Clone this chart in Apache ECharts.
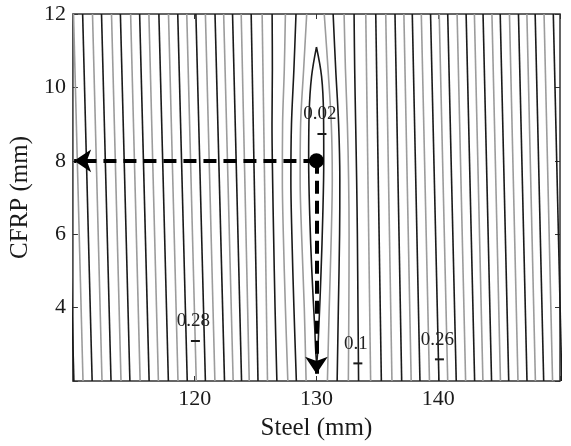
<!DOCTYPE html>
<html lang="en">
<head>
<meta charset="UTF-8">
<title>Contour</title>
<script src="https://cdn.jsdelivr.net/npm/echarts@6/dist/echarts.min.js"></script>
<style>
    html, body { margin: 0; padding: 0; background: #fff; }
    #chart { width: 571px; height: 446px; }
</style>
</head>
<body>
<div id="chart"></div>
<script>
    // tick labels
    var xTickLabels = [120, 130, 140];
    var yTickLabels = [4, 6, 8, 10, 12];

    // near-straight contours, x at the top (CFRP = 12) and bottom (CFRP = 2)
    var leftTopX = [109.30, 110.05, 110.80, 111.61, 112.35, 113.17, 113.90, 114.74, 115.48, 116.24, 117.06,
        117.85, 118.61, 119.35, 120.10, 120.88, 121.67, 122.38, 123.11, 123.82, 124.64, 125.54];
    var leftBottomX = [110.08, 110.83, 111.58, 112.39, 113.13, 113.95, 114.68, 115.52, 116.26, 117.02, 117.84,
        118.63, 119.39, 120.13, 120.88, 121.66, 122.45, 123.16, 123.85, 124.48, 125.20, 125.98];
    var rightTopX = [134.05, 134.87, 135.69, 136.45, 137.18, 137.87, 138.61, 139.37, 140.08, 140.78, 141.55,
        142.29, 142.97, 143.68, 144.41, 145.09, 145.85, 146.59, 147.28, 147.96, 148.69, 149.45];
    var rightBottomX = [134.45, 135.33, 136.20, 137.00, 137.78, 138.50, 139.28, 140.06, 140.78, 141.48, 142.25,
        142.99, 143.67, 144.38, 145.11, 145.79, 146.55, 147.29, 147.98, 148.66, 149.39, 150.15];

    // bent contours around the optimum, x sampled at curveY
    var curveY = [12, 10.5, 9, 7.5, 6, 4, 2];
    var curveLeftX = [
        [126.36, 126.38, 126.35, 126.40, 126.48, 126.60, 126.75],
        [127.45, 127.36, 127.22, 127.20, 127.28, 127.45, 127.65],
        [128.32, 128.15, 127.95, 127.90, 127.98, 128.15, 128.35],
        [129.20, 128.95, 128.70, 128.66, 128.78, 129.00, 129.15]
    ];
    var curveRightX = [
        [130.64, 130.95, 131.22, 131.30, 131.22, 131.05, 130.90],
        [131.37, 131.58, 131.82, 131.92, 131.90, 131.80, 131.70],
        [132.27, 132.38, 132.54, 132.64, 132.68, 132.66, 132.62],
        [133.09, 133.14, 133.22, 133.30, 133.36, 133.41, 133.46]
    ];

    // innermost closed contour (0.02)
    var lensX = [130.0, 129.6, 129.4, 129.36, 129.45, 129.62, 129.85, 130.02, 130.2, 130.38, 130.52, 130.6, 130.58, 130.42, 130.0];
    var lensY = [11.1, 10.3, 9.3, 8.0, 6.5, 5.0, 3.5, 2.45, 3.5, 5.0, 6.5, 8.0, 9.3, 10.3, 11.1];

    // clabel marks
    var labelText = ['0.02', '0.28', '0.1', '0.26'];
    var labelX = [130.45, 120.06, 133.4, 140.1];
    var labelY = [8.73, 3.09, 2.48, 2.59];

    var optimum = [130, 8];

    var serif = 'Liberation Serif, Times New Roman, serif';
    var dark = '#1a1a1a';
    var light = '#9c9c9c';

    function contour(points, level, smooth) {
        return {
            type: 'line',
            data: points,
            symbol: 'none',
            smooth: smooth ? 0.35 : false,
            clip: true,
            silent: true,
            lineStyle: { color: level % 2 ? dark : light, width: 1.6 },
            z: 2
        };
    }

    var series = [];
    var n = leftTopX.length;
    for (var i = 0; i < n; i++) {
        series.push(contour([[leftTopX[i], 12], [leftBottomX[i], 2]], 6 + (n - 1 - i), false));
    }
    for (var i = 0; i < curveLeftX.length; i++) {
        series.push(contour(curveY.map(function(y, k) { return [curveLeftX[i][k], y]; }), 5 - i, true));
    }
    series.push(contour(lensX.map(function(x, k) { return [x, lensY[k]]; }), 1, true));
    for (var i = 0; i < curveRightX.length; i++) {
        series.push(contour(curveY.map(function(y, k) { return [curveRightX[i][k], y]; }), 2 + i, true));
    }
    for (var i = 0; i < rightTopX.length; i++) {
        series.push(contour([[rightTopX[i], 12], [rightBottomX[i], 2]], 6 + i, false));
    }

    // clabel '+' marks with their values
    series.push({
        type: 'scatter',
        data: labelText.map(function(t, k) { return { name: t, value: [labelX[k], labelY[k]] }; }),
        symbol: 'rect',
        symbolSize: [9, 2],
        itemStyle: { color: dark, opacity: 1 },
        label: {
            show: true,
            position: 'top',
            distance: 9,
            offset: [-2, 0],
            formatter: '{b}',
            fontFamily: serif,
            fontSize: 19,
            color: '#222'
        },
        silent: true,
        z: 5
    });

    // dashed arrows from the optimum
    series.push({
        type: 'scatter',
        data: [optimum],
        symbolSize: 15,
        itemStyle: { color: '#000', opacity: 1 },
        silent: true,
        z: 10,
        markLine: {
            silent: true,
            symbol: ['none', 'arrow'],
            symbolSize: 17,
            label: { show: false },
            lineStyle: { color: '#000', width: 4, type: [13, 7] },
            data: [
                [{ coord: optimum }, { coord: [110.1, optimum[1]] }],
                [{ coord: optimum }, { coord: [optimum[0], 2.2] }]
            ]
        }
    });

    var tickStyle = { color: '#333', width: 1 };

    var option = {
        animation: false,
        backgroundColor: '#fff',
        grid: { left: 71, right: 11, top: 14, bottom: 56, show: true, borderColor: '#333', borderWidth: 1.5 },
        xAxis: [{
            type: 'value', min: 110, max: 150, interval: 10, position: 'bottom',
            axisLine: { show: false },
            axisTick: { inside: true, length: 5, lineStyle: tickStyle },
            splitLine: { show: false },
            axisLabel: {
                formatter: function(v) { return xTickLabels.indexOf(v) >= 0 ? String(v) : ''; },
                fontFamily: serif, fontSize: 22, color: '#1a1a1a', margin: 7
            },
            name: 'Steel (mm)', nameLocation: 'middle', nameGap: 35,
            nameTextStyle: { fontFamily: serif, fontSize: 25, color: '#1a1a1a' }
        }, {
            type: 'value', min: 110, max: 150, interval: 10, position: 'top',
            axisLine: { show: false },
            axisTick: { inside: true, length: 5, lineStyle: tickStyle },
            splitLine: { show: false },
            axisLabel: { show: false }
        }],
        yAxis: [{
            type: 'value', min: 2, max: 12, interval: 2, position: 'left',
            axisLine: { show: false },
            axisTick: { inside: true, length: 5, lineStyle: tickStyle },
            splitLine: { show: false },
            axisLabel: {
                formatter: function(v) { return yTickLabels.indexOf(v) >= 0 ? String(v) : ''; },
                fontFamily: serif, fontSize: 22, color: '#1a1a1a', margin: 7
            },
            name: 'CFRP (mm)', nameLocation: 'middle', nameGap: 38,
            nameTextStyle: { fontFamily: serif, fontSize: 25, color: '#1a1a1a' }
        }, {
            type: 'value', min: 2, max: 12, interval: 2, position: 'right',
            axisLine: { show: false },
            axisTick: { inside: true, length: 5, lineStyle: tickStyle },
            splitLine: { show: false },
            axisLabel: { show: false }
        }],
        series: series
    };

    var chart = echarts.init(document.getElementById('chart'));
    chart.setOption(option);
</script>
</body>
</html>
